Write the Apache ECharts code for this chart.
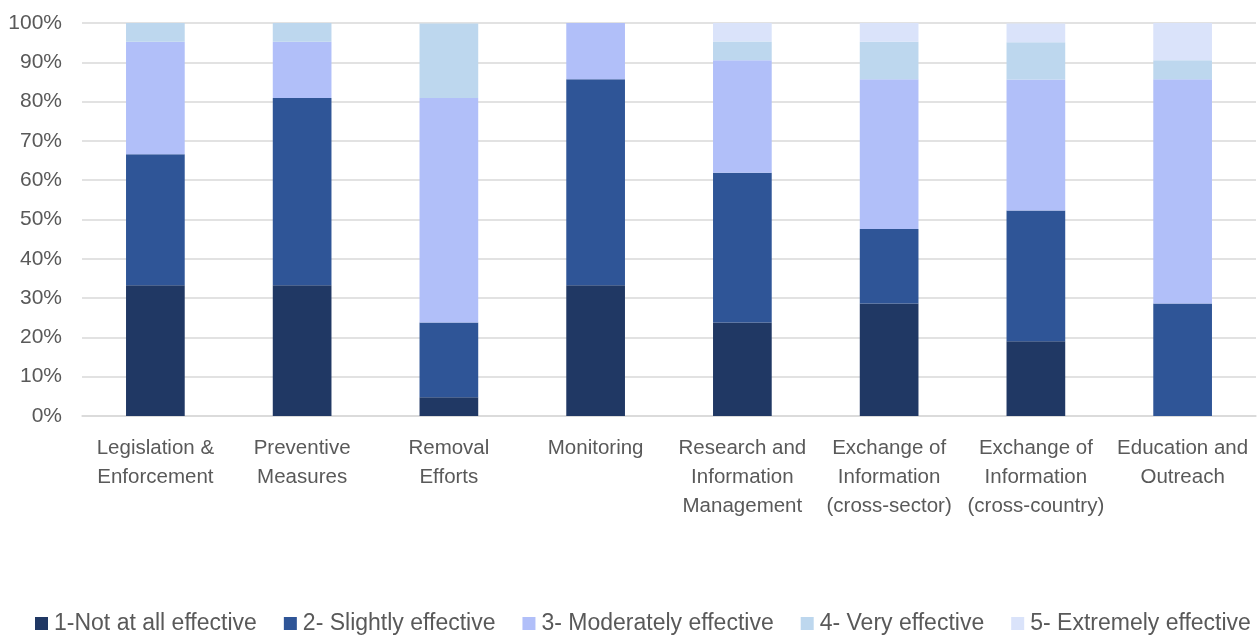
<!DOCTYPE html>
<html>
<head>
<meta charset="utf-8">
<script src="https://cdn.jsdelivr.net/npm/echarts@6/dist/echarts.min.js"></script>
<style>html,body{margin:0;padding:0;background:#fff;}#c{width:1260px;height:637px;}</style>
</head>
<body>
<div id="c"></div>
<script>
const categories = ["Legislation &\nEnforcement", "Preventive\nMeasures", "Removal\nEfforts", "Monitoring", "Research and\nInformation\nManagement", "Exchange of\nInformation\n(cross-sector)", "Exchange of\nInformation\n(cross-country)", "Education and\nOutreach"];
const seriesNames = ["1-Not at all effective", "2- Slightly effective", "3- Moderately effective", "4- Very effective", "5- Extremely effective"];
const notAtAll   = [33.3, 33.3, 4.8, 33.3, 23.8, 28.6, 19.0, 0];
const slightly   = [33.3, 47.6, 19.0, 52.4, 38.1, 19.0, 33.3, 28.6];
const moderately = [28.6, 14.3, 57.1, 14.3, 28.6, 38.1, 33.3, 57.1];
const very       = [4.8, 4.8, 19.0, 0, 4.8, 9.5, 9.5, 4.8];
const extremely  = [0, 0, 0, 0, 4.8, 4.8, 4.8, 9.5];
const yTicks = [0, 10, 20, 30, 40, 50, 60, 70, 80, 90, 100];
const colors = ["#203864", "#2f5597", "#b1bff9", "#bdd7ee", "#dae3fa"];
const allData = [notAtAll, slightly, moderately, very, extremely];

const font = "'Liberation Sans', Arial, sans-serif";
const chart = echarts.init(document.getElementById('c'));
chart.setOption({
  animation: false,
  textStyle: { fontFamily: font },
  grid: { left: 82, right: 4, top: 23, bottom: 221, containLabel: false },
  legend: {
    bottom: -3, left: 30, itemWidth: 13, itemHeight: 13, itemGap: 27,
    icon: 'rect',
    textStyle: { fontSize: 23, color: '#595959', fontFamily: font, padding: [0, 0, 0, 1] },
    data: seriesNames
  },
  xAxis: {
    type: 'category', data: categories,
    axisLine: { lineStyle: { color: '#d9d9d9', width: 1.5 } },
    axisTick: { show: false },
    axisLabel: { color: '#595959', fontSize: 20.5, lineHeight: 29, margin: 18, interval: 0 }
  },
  yAxis: {
    type: 'value', min: 0, max: 100, interval: 10,
    axisLabel: { color: '#595959', fontSize: 21, margin: 20, formatter: v => v + '%' },
    splitLine: { lineStyle: { color: '#d9d9d9', width: 1.5 } },
    axisLine: { show: false }, axisTick: { show: false }
  },
  series: seriesNames.map((n, i) => ({
    name: n, type: 'bar', stack: 'all', barWidth: '40%',
    itemStyle: { color: colors[i] },
    data: allData[i]
  }))
});
</script>
</body>
</html>
